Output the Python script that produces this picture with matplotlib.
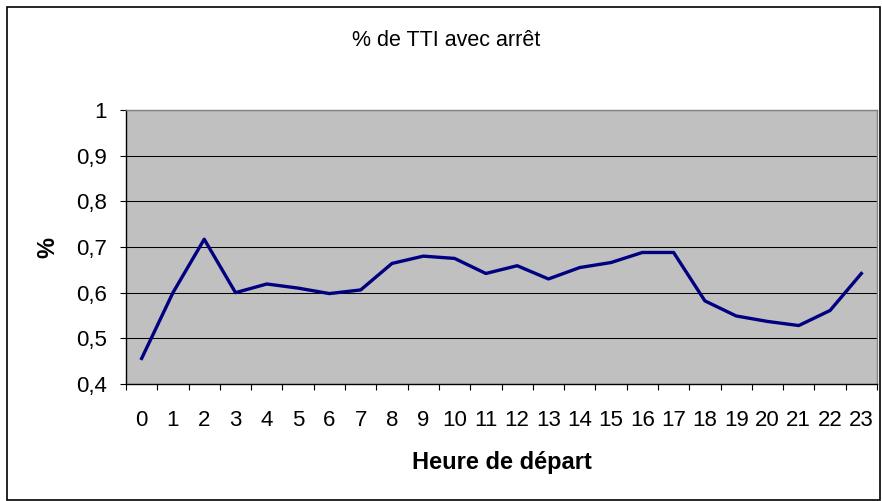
import matplotlib
matplotlib.use("Agg")
import matplotlib.pyplot as plt
from matplotlib.patches import Rectangle
from matplotlib.ticker import FixedLocator, FuncFormatter

# données
heures = list(range(24))
pct_arret = [0.456, 0.600, 0.717, 0.600, 0.619, 0.610, 0.598, 0.606,
             0.664, 0.680, 0.675, 0.642, 0.659, 0.630, 0.655, 0.666,
             0.688, 0.688, 0.582, 0.549, 0.537, 0.528, 0.561, 0.642]
y_ticks = [0.4, 0.5, 0.6, 0.7, 0.8, 0.9, 1.0]

plt.rcParams['font.family'] = ['Liberation Sans', 'DejaVu Sans']

W, H = 882, 501
fig = plt.figure(figsize=(W / 100, H / 100), dpi=100)
ax = fig.add_axes([126 / W, 1 - 384 / H, 751 / W, 274 / H])

ax.set_facecolor('#C0C0C0')
ax.plot(heures, pct_arret, color='#000080', lw=2.4, zorder=3)

ax.set_xlim(-0.5, 23.5)
ax.set_ylim(0.4, 1.0)

# grille horizontale
ax.set_yticks(y_ticks)
ax.yaxis.set_major_formatter(FuncFormatter(
    lambda v, p: ('%g' % round(v, 1)).replace('.', ',')))
ax.grid(axis='y', color='black', lw=0.75, zorder=1)
ax.set_axisbelow(True)

# axe x : étiquettes au centre, graduations aux frontières
ax.set_xticks(heures)
ax.set_xticklabels([str(h) for h in heures])
ax.xaxis.set_minor_locator(FixedLocator([h - 0.5 for h in heures] + [23.5]))
ax.tick_params(axis='x', which='major', length=0, pad=19, labelsize=16)
ax.tick_params(axis='x', which='minor', length=4, width=0.8,
               direction='out', color='black')
ax.tick_params(axis='y', length=4, width=0.8, direction='out',
               color='black', pad=10, labelsize=16)

for s in ['left', 'bottom']:
    ax.spines[s].set_color('black')
    ax.spines[s].set_linewidth(1.0)
for s in ['top', 'right']:
    ax.spines[s].set_color('#808080')
    ax.spines[s].set_linewidth(1.0)

ax.set_xlabel('Heure de départ', fontsize=17, fontweight='bold')
ax.xaxis.set_label_coords(0.5, (384 - 462) / 274)
ax.xaxis.label.set_va('center')
ax.set_ylabel('%', fontsize=17, fontweight='bold')
ax.yaxis.set_label_coords((48 - 126) / 751, 0.5)
ax.yaxis.label.set_va('center')

fig.text(446 / W, 1 - 40 / H, '% de TTI avec arrêt', fontsize=15.5,
         ha='center', va='center')

# cadre du graphique
fig.patches.append(Rectangle((7 / W, 1 / H), 873 / W, 493 / H,
                             transform=fig.transFigure, fill=False,
                             edgecolor='black', lw=1.2))

fig.savefig('out.png', dpi=100)
